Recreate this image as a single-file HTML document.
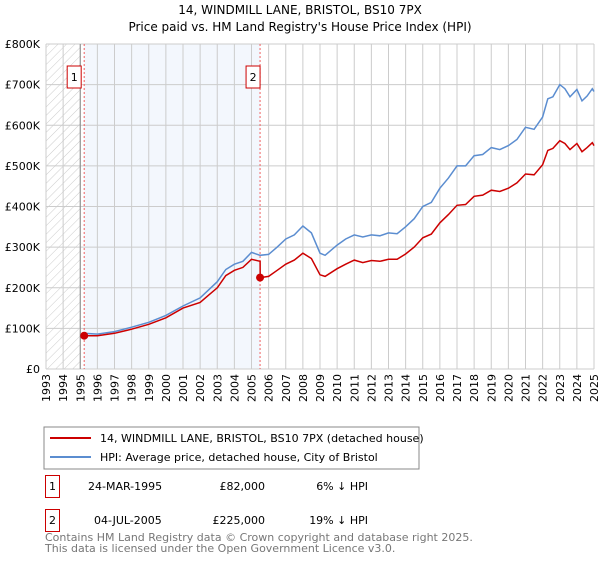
<!DOCTYPE html>
<html><head><meta charset="utf-8"><style>
body{margin:0;background:#fff;font-family:"DejaVu Sans","Liberation Sans",sans-serif;}
svg text{font-family:"DejaVu Sans","Liberation Sans",sans-serif;}
</style></head><body>
<svg id="c" width="600" height="560" viewBox="0 0 600 560">
<defs><pattern id="hatch" width="6" height="6" patternUnits="userSpaceOnUse" patternTransform="rotate(45)"><line x1="0" y1="0" x2="0" y2="6" stroke="#ccc" stroke-width="1"/></pattern></defs>
<text x="300" y="14" text-anchor="middle" font-size="12">14, WINDMILL LANE, BRISTOL, BS10 7PX</text>
<text x="300" y="31" text-anchor="middle" font-size="12">Price paid vs. HM Land Registry's House Price Index (HPI)</text>
<g id="plot"></g>
<rect x="44" y="427" width="375" height="42" fill="#fff" stroke="#888"/>
<line x1="50" y1="438" x2="91" y2="438" stroke="#cc0000" stroke-width="2"/>
<text x="100" y="442" font-size="11">14, WINDMILL LANE, BRISTOL, BS10 7PX (detached house)</text>
<line x1="50" y1="457" x2="91" y2="457" stroke="#5b8dd0" stroke-width="2"/>
<text x="100" y="461" font-size="11">HPI: Average price, detached house, City of Bristol</text>
<g font-size="11">
<rect x="45.5" y="475.5" width="14" height="22" fill="none" stroke="#cc0000"/>
<text x="52.5" y="490" text-anchor="middle">1</text>
<text x="88" y="490">24-MAR-1995</text><text x="265" y="490" text-anchor="end">£82,000</text><text x="368" y="490" text-anchor="end">6% ↓ HPI</text>
<rect x="45.5" y="509.5" width="14" height="22" fill="none" stroke="#cc0000"/>
<text x="52.5" y="524" text-anchor="middle">2</text>
<text x="94" y="524">04-JUL-2005</text><text x="265" y="524" text-anchor="end">£225,000</text><text x="368" y="524" text-anchor="end">19% ↓ HPI</text>
</g>
<text x="45" y="541" font-size="11" fill="#777">Contains HM Land Registry data © Crown copyright and database right 2025.</text>
<text x="45" y="552" font-size="11" fill="#777">This data is licensed under the Open Government Licence v3.0.</text>
</svg>
<script>
const hpiYears=[1995.2,1996,1997,1998,1999,2000,2001,2002,2002.5,2003,2003.5,2004,2004.5,2005,2005.5,2006,2006.5,2007,2007.5,2008,2008.5,2009,2009.3,2010,2010.5,2011,2011.5,2012,2012.5,2013,2013.5,2014,2014.5,2015,2015.5,2016,2016.5,2017,2017.5,2018,2018.5,2019,2019.5,2020,2020.5,2021,2021.5,2022,2022.3,2022.6,2023,2023.3,2023.6,2024,2024.3,2024.6,2024.9,2025];
const hpiValues=[88,86,92,103,115,132,155,175,195,215,245,258,265,287,280,282,300,320,330,352,335,285,280,305,320,330,325,330,328,335,333,350,370,400,410,445,470,500,500,525,528,545,540,550,565,595,590,620,665,670,700,690,670,688,660,672,690,683];
const redYears=[1995.2,1996,1997,1998,1999,2000,2001,2002,2002.5,2003,2003.5,2004,2004.5,2005,2005.5,2005.51,2006,2006.5,2007,2007.5,2008,2008.5,2009,2009.3,2010,2010.5,2011,2011.5,2012,2012.5,2013,2013.5,2014,2014.5,2015,2015.5,2016,2016.5,2017,2017.5,2018,2018.5,2019,2019.5,2020,2020.5,2021,2021.5,2022,2022.3,2022.6,2023,2023.3,2023.6,2024,2024.3,2024.6,2024.9,2025];
const redValues=[82,82,88,98,110,126,150,164,182,200,230,243,250,270,265,225,228,243,258,268,285,272,232,228,247,258,268,262,267,265,270,270,283,300,323,332,360,380,403,405,425,428,440,437,445,458,480,478,503,538,543,562,555,540,555,535,545,557,550];
const yTicks=[0,100,200,300,400,500,600,700,800];
const yTickLabels=["£0","£100K","£200K","£300K","£400K","£500K","£600K","£700K","£800K"];
const xTicks=[];for(let y=1993;y<=2025;y++)xTicks.push(y);
const sales=[[1995.23,82,"1"],[2005.5,225,"2"]];
const X0=46,X1=594,Y0=369,Y1=44;
const sx=v=>X0+(v-1993)/(2025-1993)*(X1-X0);
const sy=v=>Y0-v/800*(Y0-Y1);
const ns="http://www.w3.org/2000/svg",g=document.getElementById('plot');
function mk(t,a){const e=document.createElementNS(ns,t);for(const k in a)e.setAttribute(k,a[k]);g.appendChild(e);return e;}
let e;
e=mk('rect',{x:X0,y:Y1,width:X1-X0,height:Y0-Y1,fill:'#fff'});

e=mk('rect',{x:X0,y:Y1,width:sx(1995)-X0,height:Y0-Y1,fill:'url(#hatch)'});

e=mk('rect',{x:sx(sales[0][0]),y:Y1,width:sx(sales[1][0])-sx(sales[0][0]),height:Y0-Y1,fill:'#eef3fc',opacity:0.7});

xTicks.forEach(y=>{e=mk('line',{x1:sx(y),x2:sx(y),y1:Y1,y2:Y0,stroke:'#ccc'});

e=mk('text',{x:0,y:0,'font-size':11,'text-anchor':'end',transform:`translate(${sx(y)+4},${Y0+5}) rotate(-90)`});e.textContent=y;
});
yTicks.forEach((v,i)=>{e=mk('line',{x1:X0,x2:X1,y1:sy(v),y2:sy(v),stroke:'#ccc'});

e=mk('text',{x:X0-6,y:sy(v)+4,'font-size':11,'text-anchor':'end'});e.textContent=yTickLabels[i];
});
e=mk('line',{x1:sx(1995),x2:sx(1995),y1:Y1,y2:Y0,stroke:'#888'});

sales.forEach(s=>{e=mk('line',{x1:sx(s[0]),x2:sx(s[0]),y1:Y1,y2:Y0,stroke:'#f06060','stroke-dasharray':'2,2'});
});
const pts=(xs,vs)=>xs.map((x,i)=>sx(x).toFixed(1)+','+sy(vs[i]).toFixed(1)).join(' ');
e=mk('polyline',{points:pts(hpiYears,hpiValues),fill:'none',stroke:'#5b8dd0','stroke-width':1.5});

e=mk('polyline',{points:pts(redYears,redValues),fill:'none',stroke:'#cc0000','stroke-width':1.5});

sales.forEach(s=>{e=mk('circle',{cx:sx(s[0]),cy:sy(s[1]),r:4,fill:'#cc0000'});

const bx=sx(s[0])-(s[2]=="1"?10:7);
e=mk('rect',{x:bx-7,y:66,width:14,height:22,fill:'#fff',stroke:'#cc0000'});

e=mk('text',{x:bx,y:81,'font-size':11,'text-anchor':'middle'});e.textContent=s[2];
});
</script>
</body></html>
